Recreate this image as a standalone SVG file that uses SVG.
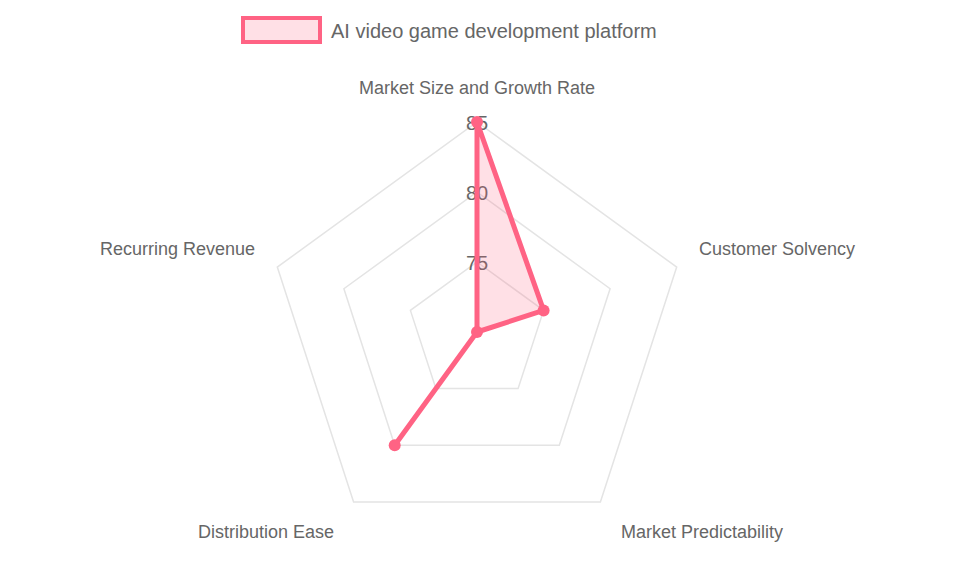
<svg xmlns="http://www.w3.org/2000/svg" width="955" height="573" viewBox="0 0 955 573">
<style>
.g{fill:none;stroke:#e4e4e4;stroke-width:1.5}
.t{font-family:"Liberation Sans",Arial,sans-serif;fill:#666}
.pt{fill:#ff6384}
</style>
<rect width="955" height="573" fill="#fff"/>
<g id="grid">
<polygon class="g" points="477,262 543.6,310.4 518.1,388.6 435.9,388.6 410.4,310.4"/>
<polygon class="g" points="477,192 610.1,288.7 559.3,445.3 394.7,445.3 343.9,288.7"/>
<polygon class="g" points="477,122 676.7,267.1 600.4,502 353.6,502 277.3,267.1"/>
</g>
<g id="ticks" class="t" font-size="20" text-anchor="middle">
<text x="477" y="270">75</text>
<text x="477" y="200">80</text>
<text x="477" y="130">85</text>
</g>
<g id="labels" class="t" font-size="18">
<text x="477" y="94" text-anchor="middle">Market Size and Growth Rate</text>
<text x="699" y="255">Customer Solvency</text>
<text x="702" y="538" text-anchor="middle">Market Predictability</text>
<text x="266" y="538" text-anchor="middle">Distribution Ease</text>
<text x="255" y="255" text-anchor="end">Recurring Revenue</text>
</g>
<g id="connectors">
<polygon points="477,122 543.6,310.4 477,332 394.7,445.3 477,332" fill="rgba(255,99,132,0.2)" stroke="#ff6384" stroke-width="5" stroke-linejoin="round"/>
</g>
<g id="points">
<circle class="pt" cx="477" cy="122" r="6"/>
<circle class="pt" cx="543.6" cy="310.4" r="6"/>
<circle class="pt" cx="477" cy="332" r="6"/>
<circle class="pt" cx="394.7" cy="445.3" r="6"/>
</g>
<g id="legend">
<rect x="243" y="18" width="77" height="24" fill="rgba(255,99,132,0.2)" stroke="#ff6384" stroke-width="4"/>
<text class="t" x="331" y="38" font-size="20">AI video game development platform</text>
</g>
</svg>
